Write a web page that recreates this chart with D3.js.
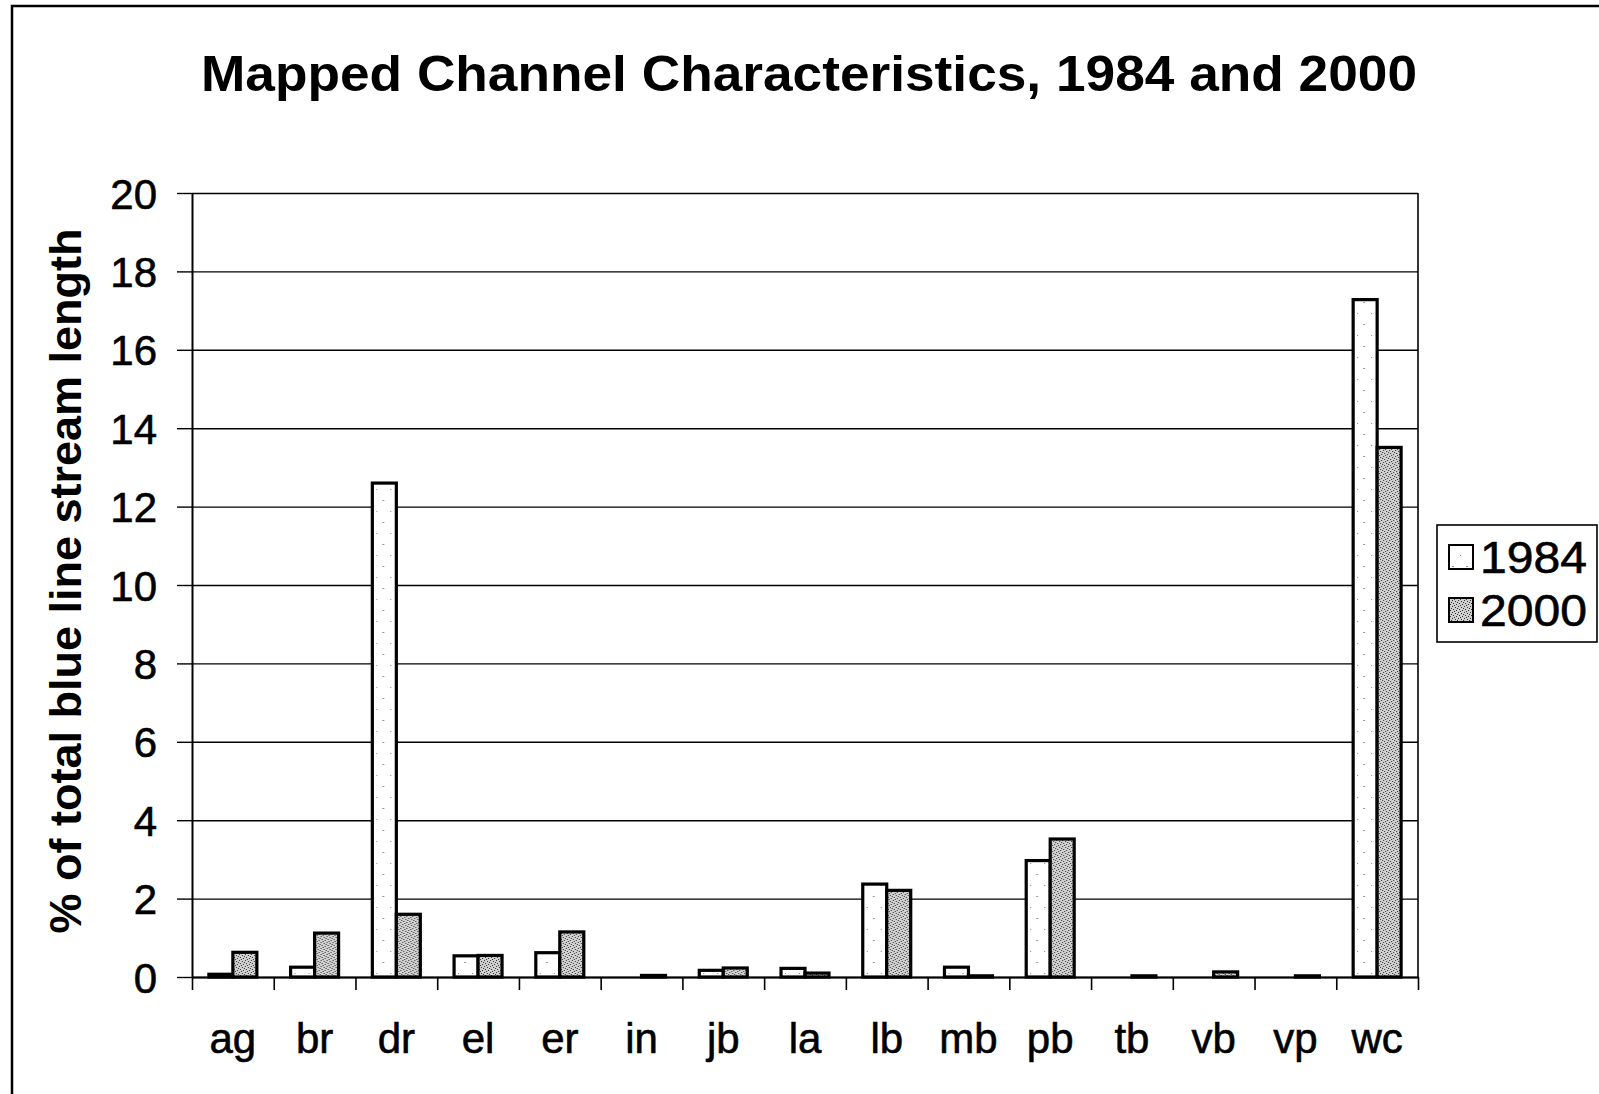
<!DOCTYPE html>
<html>
<head>
<meta charset="utf-8">
<script src="https://cdn.jsdelivr.net/npm/d3@7"></script>
<style>
  body { margin: 0; background: #fff; }
  svg { display: block; font-family: "Liberation Sans", Arial, sans-serif; }
  .grid line { stroke: #000; stroke-width: 1.4; }
  .grid .domain { display: none; }
  .axis text { fill: #000; }
</style>
</head>
<body>
<svg width="1599" height="1094"></svg>
<script>
// data
var categories = ["ag", "br", "dr", "el", "er", "in", "jb", "la", "lb", "mb", "pb", "tb", "vb", "vp", "wc"];
var years = ["1984", "2000"];
var values1984 = [0.07, 0.25, 12.6, 0.54, 0.62, 0, 0.17, 0.22, 2.37, 0.25, 2.97, 0, 0, 0, 17.28];
var values2000 = [0.63, 1.12, 1.6, 0.55, 1.15, 0.04, 0.23, 0.1, 2.21, 0.03, 3.52, 0.03, 0.13, 0.03, 13.51];
var yTicks = [0, 2, 4, 6, 8, 10, 12, 14, 16, 18, 20];

var data = categories.map(function(c, i) {
  return {cat: c, vals: [{year: "1984", v: values1984[i]}, {year: "2000", v: values2000[i]}]};
});

var plot = {left: 192, right: 1418, top: 193, bottom: 977};

var svg = d3.select("svg");

// fill textures
var defs = svg.append("defs");
var p1 = defs.append("pattern").attr("id", "tex1984")
    .attr("patternUnits", "userSpaceOnUse").attr("width", 14).attr("height", 22);
p1.append("rect").attr("width", 14).attr("height", 22).attr("fill", "#fff");
p1.append("rect").attr("x", 4).attr("y", 5).attr("width", 1).attr("height", 1).attr("fill", "#888");
p1.append("rect").attr("x", 10).attr("y", 16).attr("width", 2).attr("height", 1).attr("fill", "#999");

var p2 = defs.append("pattern").attr("id", "tex2000")
    .attr("patternUnits", "userSpaceOnUse").attr("width", 6).attr("height", 6);
p2.append("rect").attr("width", 6).attr("height", 6).attr("fill", "#d0d0d0");
[[0, 0], [3, 1], [1, 3], [4, 4], [5, 2], [2, 5]].forEach(function(p) {
  p2.append("rect").attr("x", p[0]).attr("y", p[1]).attr("width", 1).attr("height", 1).attr("fill", "#333");
});

// outer frame (runs off the page at right and bottom)
svg.append("path")
    .attr("d", "M12,1100 L12,6 L1605,6")
    .attr("fill", "none").attr("stroke", "#000").attr("stroke-width", 2.5);

// scales
var x0 = d3.scaleBand().domain(categories).range([plot.left, plot.right])
    .paddingInner(0.413).paddingOuter(0.2065);
var x1 = d3.scaleBand().domain(years).range([0, x0.bandwidth()]);
var y = d3.scaleLinear().domain([0, 20]).range([plot.bottom, plot.top]);
var xEdge = d3.scaleLinear().domain([0, categories.length]).range([plot.left, plot.right]);

// gridlines
svg.append("g")
    .attr("class", "grid")
    .attr("transform", "translate(" + plot.left + ",0)")
    .call(d3.axisLeft(y).tickValues(yTicks).tickSize(-(plot.right - plot.left)).tickFormat(""));

// right border of the plot area
svg.append("line")
    .attr("x1", plot.right).attr("x2", plot.right)
    .attr("y1", plot.top).attr("y2", plot.bottom)
    .attr("stroke", "#000").attr("stroke-width", 1.6);

// y axis
var yAx = svg.append("g")
    .attr("class", "axis")
    .attr("transform", "translate(" + plot.left + ",0)")
    .call(d3.axisLeft(y).tickValues(yTicks).tickSize(15).tickSizeOuter(0).tickPadding(20));
yAx.selectAll("line").attr("stroke", "#000").attr("stroke-width", 1.4);
yAx.select(".domain").attr("stroke", "#000").attr("stroke-width", 2);
yAx.selectAll("text").attr("font-size", 42).attr("dy", "0.36em")
    .attr("stroke", "#000").attr("stroke-width", 0.6);

// x axis: ticks on category edges, labels at centres
var xAx = svg.append("g")
    .attr("transform", "translate(0," + plot.bottom + ")")
    .call(d3.axisBottom(xEdge).tickValues(d3.range(categories.length + 1)).tickSize(13).tickSizeOuter(0).tickFormat(""));
xAx.selectAll("line").attr("stroke", "#000").attr("stroke-width", 1.6);
xAx.select(".domain").attr("stroke", "#000").attr("stroke-width", 2);

var xLab = svg.append("g")
    .attr("class", "axis")
    .attr("transform", "translate(0," + plot.bottom + ")")
    .call(d3.axisBottom(x0).tickSize(0).tickPadding(0));
xLab.select(".domain").remove();
xLab.selectAll("text").attr("font-size", 42).attr("dy", 0).attr("y", 76)
    .attr("stroke", "#000").attr("stroke-width", 0.6);

// bars
svg.append("g").selectAll("g")
    .data(data)
  .enter().append("g")
    .attr("transform", function(d) { return "translate(" + x0(d.cat) + ",0)"; })
  .selectAll("rect")
    .data(function(d) { return d.vals.filter(function(e) { return e.v > 0; }); })
  .enter().append("rect")
    .attr("x", function(d) { return x1(d.year); })
    .attr("width", x1.bandwidth())
    .attr("y", function(d) { return y(d.v); })
    .attr("height", function(d) { return y(0) - y(d.v); })
    .attr("fill", function(d) { return "url(#tex" + d.year + ")"; })
    .attr("stroke", "#000")
    .attr("stroke-width", 3.2);

// title
svg.append("text")
    .attr("x", 809).attr("y", 91)
    .attr("text-anchor", "middle")
    .attr("font-size", 50).attr("font-weight", "bold")
    .attr("textLength", 1216).attr("lengthAdjust", "spacingAndGlyphs")
    .text("Mapped Channel Characteristics, 1984 and 2000");

// y label
svg.append("text")
    .attr("transform", "translate(81,581) rotate(-90)")
    .attr("text-anchor", "middle")
    .attr("font-size", 45).attr("font-weight", "bold")
    .text("% of total blue line stream length");

// legend
var legend = svg.append("g");
legend.append("rect")
    .attr("x", 1437).attr("y", 525).attr("width", 160).attr("height", 117)
    .attr("fill", "#fff").attr("stroke", "#000").attr("stroke-width", 1.6);
var legY = d3.scalePoint().domain(years).range([557, 610]);
years.forEach(function(yr) {
  legend.append("rect")
      .attr("x", 1449).attr("y", legY(yr) - 12).attr("width", 24).attr("height", 24)
      .attr("fill", "url(#tex" + yr + ")").attr("stroke", "#000").attr("stroke-width", 2);
  legend.append("text")
      .attr("x", 1480).attr("y", legY(yr) + 16)
      .attr("font-size", 44)
      .attr("stroke", "#000").attr("stroke-width", 0.6)
      .attr("textLength", 107).attr("lengthAdjust", "spacingAndGlyphs")
      .text(yr);
});
</script>
</body>
</html>
